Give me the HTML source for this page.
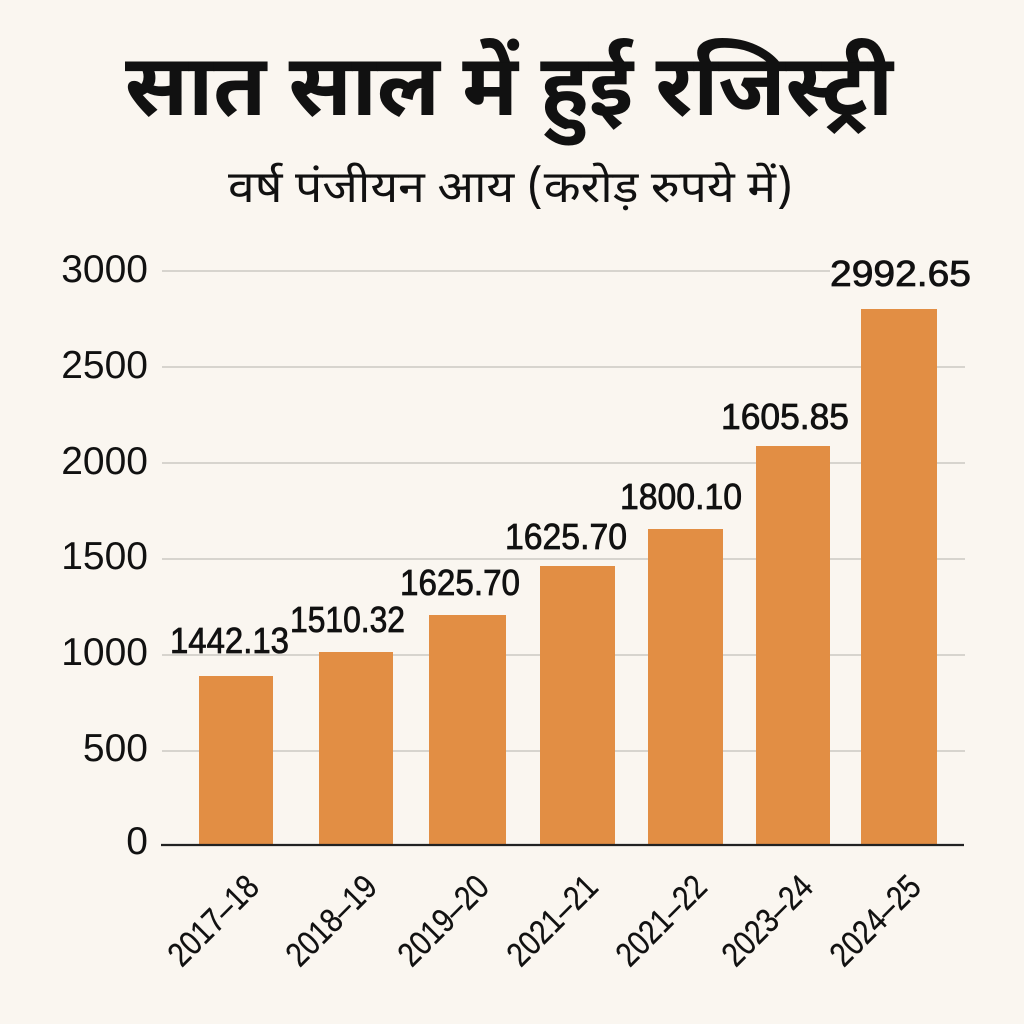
<!DOCTYPE html>
<html><head><meta charset="utf-8"><style>
html,body{margin:0;padding:0;background:#faf6f0;}
svg{display:block;}
.dev{font-family:"Noto Sans Devanagari","Lohit Devanagari","Mukta","FreeSans","Liberation Sans","DejaVu Sans",sans-serif;fill:#111;}
.num{font-family:"Liberation Sans","DejaVu Sans",sans-serif;fill:#111;}
</style></head><body>
<svg width="1024" height="1024" viewBox="0 0 1024 1024" xmlns="http://www.w3.org/2000/svg">
<rect x="0" y="0" width="1024" height="1024" fill="#faf6f0"/>
<text class="dev" x="125" y="115" font-size="86" font-weight="bold" textLength="768" lengthAdjust="spacingAndGlyphs">सात साल में हुई रजिस्ट्री</text>
<text class="dev" x="228" y="202" font-size="44" textLength="565" lengthAdjust="spacingAndGlyphs">वर्ष पंजीयन आय (करोड़ रुपये में)</text>
<g stroke="#cbc8c3" stroke-width="1.6">
<line x1="162" y1="271" x2="830" y2="271"/>
<line x1="162" y1="367" x2="965" y2="367"/>
<line x1="162" y1="463" x2="965" y2="463"/>
<line x1="162" y1="559" x2="965" y2="559"/>
<line x1="162" y1="655" x2="965" y2="655"/>
<line x1="162" y1="751" x2="965" y2="751"/>
</g>
<g class="num" font-size="39" text-anchor="end">
<text x="148" y="282">3000</text>
<text x="148" y="378">2500</text>
<text x="148" y="474">2000</text>
<text x="148" y="569">1500</text>
<text x="148" y="665">1000</text>
<text x="148" y="761">500</text>
<text x="148" y="854">0</text>
</g>
<g fill="#e28e44">
<rect x="199" y="676" width="74" height="169"/>
<rect x="319" y="652" width="74" height="193"/>
<rect x="429" y="615" width="77" height="230"/>
<rect x="540" y="566" width="75" height="279"/>
<rect x="648" y="529" width="75" height="316"/>
<rect x="756" y="446" width="74" height="399"/>
<rect x="861" y="309" width="76" height="536"/>
</g>
<line x1="161" y1="845" x2="964" y2="845" stroke="#222" stroke-width="2.2"/>
<g class="num" font-size="36" stroke="#111" stroke-width="0.8">
<text x="170" y="653" textLength="119" lengthAdjust="spacingAndGlyphs">1442.13</text>
<text x="290" y="632" textLength="115" lengthAdjust="spacingAndGlyphs">1510.32</text>
<text x="400" y="595" textLength="120" lengthAdjust="spacingAndGlyphs">1625.70</text>
<text x="505" y="549" textLength="122" lengthAdjust="spacingAndGlyphs">1625.70</text>
<text x="620" y="509" textLength="122" lengthAdjust="spacingAndGlyphs">1800.10</text>
<text x="721" y="429" textLength="128" lengthAdjust="spacingAndGlyphs">1605.85</text>
<text x="830" y="286" textLength="141" lengthAdjust="spacingAndGlyphs">2992.65</text>
</g>
<g class="num" font-size="34" text-anchor="end" stroke="#111" stroke-width="0.3">
<text transform="translate(261,889) rotate(-45)" textLength="112" lengthAdjust="spacingAndGlyphs">2017–18</text>
<text transform="translate(379,889) rotate(-45)" textLength="112" lengthAdjust="spacingAndGlyphs">2018–19</text>
<text transform="translate(491,889) rotate(-45)" textLength="112" lengthAdjust="spacingAndGlyphs">2019–20</text>
<text transform="translate(600,889) rotate(-45)" textLength="112" lengthAdjust="spacingAndGlyphs">2021–21</text>
<text transform="translate(709,889) rotate(-45)" textLength="112" lengthAdjust="spacingAndGlyphs">2021–22</text>
<text transform="translate(815,889) rotate(-45)" textLength="112" lengthAdjust="spacingAndGlyphs">2023–24</text>
<text transform="translate(923,889) rotate(-45)" textLength="112" lengthAdjust="spacingAndGlyphs">2024–25</text>
</g>
</svg>
</body></html>
